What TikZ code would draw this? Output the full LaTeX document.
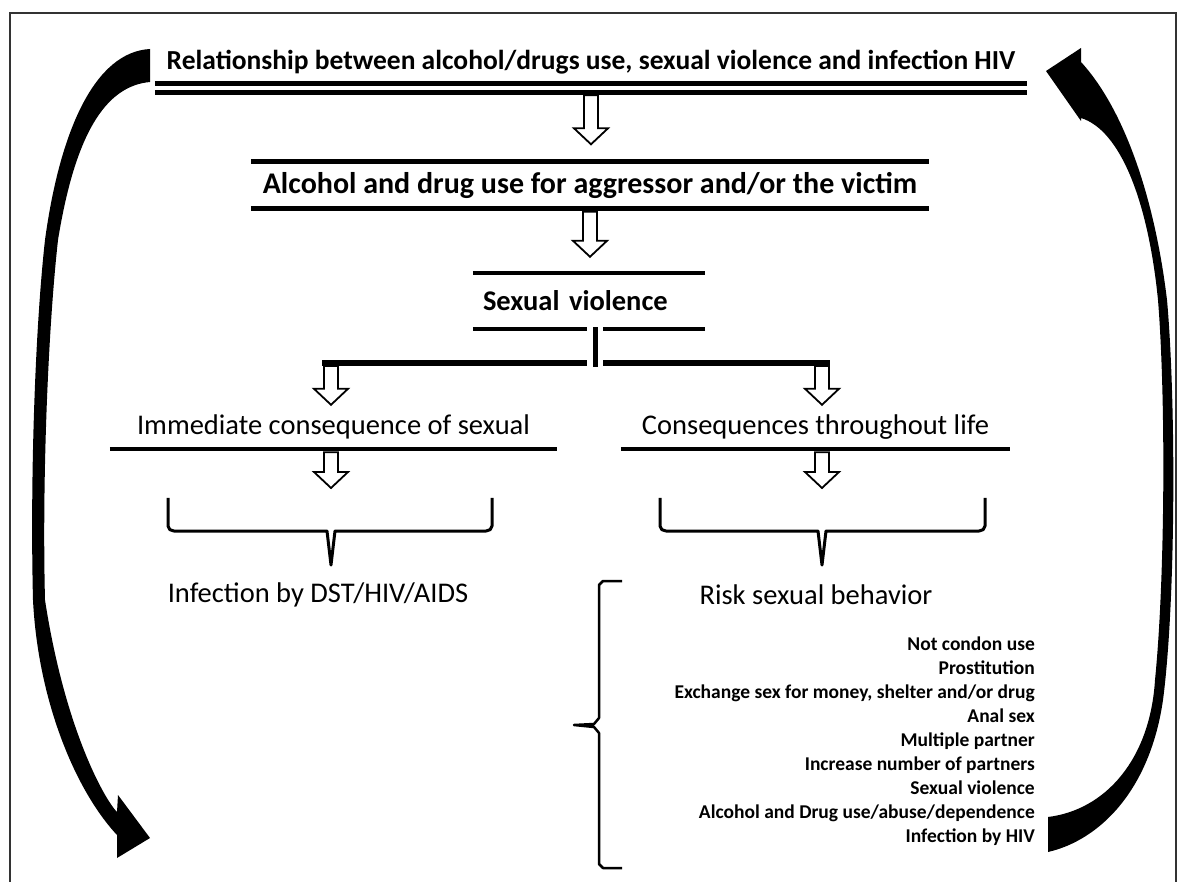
\documentclass[tikz,border=0pt]{standalone}
\usepackage{fontspec}
\setmainfont{Carlito}
\usetikzlibrary{calc}

\tikzset{
    frame/.style={line width=2.5pt,black!80},
    rule/.style={line width=5pt},
    thinrule/.style={line width=4pt},
    branch/.style={line width=6pt},
    stem/.style={line width=5pt},
    brace/.style={line width=3pt,line join=round},
    hollow/.style={draw,fill=white,line width=1.8pt,
        to path={let \p1=(\tikztostart), \p2=(\tikztotarget) in
            (\x1-7pt,\y1) -- (\x1-7pt,\y2+16pt) -- (\x1-17pt,\y2+16pt) -- (\x1,\y2)
            -- (\x1+17pt,\y2+16pt) -- (\x1+7pt,\y2+16pt) -- (\x1+7pt,\y1) -- cycle}},
    headbox/.style={inner sep=0pt,font=\bfseries\fontsize{30}{34}\selectfont},
    conbox/.style={inner sep=0pt,font=\fontsize{28.5}{32}\selectfont}
}

\begin{document}
\begin{tikzpicture}[x=1pt,y=-1pt]
            \useasboundingbox (0,0) rectangle (1184,882);
            \draw[frame] (10,882) |- (1176,13) -- (1176,882);

            % big curved arrows
            \fill (150,49) .. controls (95,52) and (60,130) .. (45,240)
                .. controls (35,330) and (30,480) .. (33,600)
                .. controls (38,700) and (75,790) .. (117,835)
                -- (117,858) -- (150,838) -- (118,795) -- (117,812)
                .. controls (105,800) and (65,730) .. (45,600)
                .. controls (42,480) and (48,330) .. (58,240)
                .. controls (75,135) and (105,86) .. (150,82) -- cycle;
            \fill (1081,48) -- (1081,62) .. controls (1125,110) and (1155,200) .. (1167,300)
                .. controls (1176,400) and (1176,600) .. (1163,700)
                .. controls (1150,790) and (1100,840) .. (1048,852) -- (1048,817)
                .. controls (1105,810) and (1150,760) .. (1155,680)
                .. controls (1165,580) and (1166,400) .. (1158,300)
                .. controls (1148,200) and (1120,130) .. (1081,118)
                -- (1081,121) -- (1046,71) -- cycle;

            \node[headbox,font=\bfseries\fontsize{27.5}{32}\selectfont,minimum width=872pt,minimum height=42pt]
                (title) at (591,62) {Relationship between alcohol/drugs use, sexual violence and infection HIV};
            \draw[rule] (title.south west) -- (title.south east);
            \draw[rule] ([yshift=-9pt]title.south west) -- ([yshift=-9pt]title.south east);

            \node[headbox,minimum width=678pt,minimum height=47pt] (alc) at (590,185)
                {Alcohol and drug use for aggressor and/or the victim};
            \draw[rule] (alc.north west) -- (alc.north east);
            \draw[rule] (alc.south west) -- (alc.south east);

            \node[headbox,font=\bfseries\fontsize{28.5}{32}\selectfont,minimum width=232pt,minimum height=56pt,
                text width=212pt,align=left] (sv) at (589,301) {Sexual violence};
            \draw[thinrule] (sv.north west) -- (sv.north east);
            \draw[thinrule] (sv.south west) -- ++(114,0);
            \draw[thinrule] (sv.south east) -- ++(-102,0);

            \draw[hollow] ([yshift=-12pt]title.south) to ([yshift=17pt]alc.north);
            \draw[hollow] ([yshift=-3pt]alc.south) to ([yshift=16pt]sv.north);

            \coordinate (fork) at (595,363);
            \coordinate (forkL) at (331,363);
            \coordinate (forkR) at (822,363);
            \coordinate (bl) at (331,498);
            \coordinate (br) at (822,498);

            \node[conbox,minimum width=447pt,minimum height=44pt] (imm) at (333.5,427)
                {Immediate consequence of sexual};
            \node[conbox,minimum width=389pt,minimum height=44pt] (life) at (815.5,427)
                {Consequences throughout life};
            \draw[thinrule] (imm.south west) -- (imm.south east);
            \draw[thinrule] (life.south west) -- (life.south east);

            \draw[hollow] ([yshift=-3pt]forkL) to (imm.north -| forkL);
            \draw[hollow] ([yshift=-3pt]forkR) to (life.north -| forkR);
            \draw[stem] ([yshift=2pt]sv.south -| fork) -- ([yshift=-4pt]fork);
            \draw[branch] ([xshift=-9pt]forkL) -- ([xshift=-8pt]fork);
            \draw[branch] ([xshift=8pt]fork) -- ([xshift=8pt]forkR);

            \draw[hollow] ([yshift=-3pt]imm.south -| forkL) to ([yshift=10pt]bl);
            \draw[hollow] ([yshift=-3pt]life.south -| forkR) to ([yshift=10pt]br);

            % braces
            \draw[brace] (168,498) -- (168,526) to[out=-90,in=180] (174,531) -- (327,531)
                -- (331,565) -- (335,531) -- (486,531) to[out=0,in=-90] (492,526) -- (492,498);
            \draw[brace] (660,498) -- (660,526) to[out=-90,in=180] (666,531) -- (818,531)
                -- (822,565) -- (826,531) -- (979,531) to[out=0,in=-90] (985,526) -- (985,498);

            \node[conbox] (infect) at (318,595) {Infection by DST/HIV/AIDS};
            \node[conbox] (risk) at (816,595) {Risk sexual behavior};

            \draw[brace,line width=2.5pt] (622,581) -- (603,581) -- (599,585) -- (599,718) -- (594,724)
                -- (574,725) -- (594,727) -- (599,733) -- (599,864) -- (603,868) -- (622,868);
            \node[inner sep=0pt,anchor=east,align=right,font=\bfseries\fontsize{19.5}{24}\selectfont]
                (risklist) at (1035,741) {Not condon use\\ Prostitution\\
                Exchange sex for money, shelter and/or drug\\ Anal sex\\ Multiple partner\\
                Increase number of partners\\ Sexual violence\\
                Alcohol and Drug use/abuse/dependence\\ Infection by HIV};
\end{tikzpicture}
\end{document}
